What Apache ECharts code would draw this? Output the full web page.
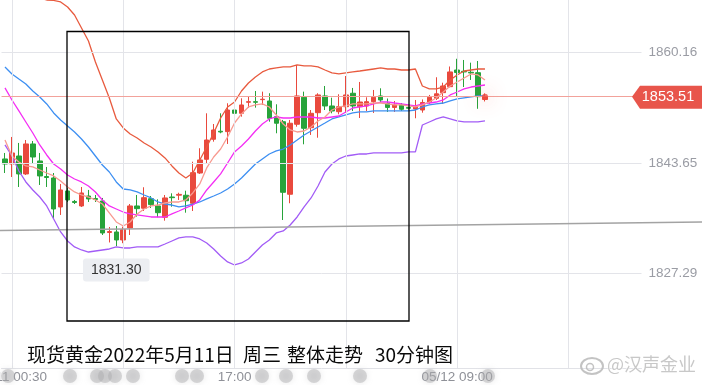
<!DOCTYPE html>
<html><head><meta charset="utf-8">
<script src="https://cdn.jsdelivr.net/npm/echarts@6.0.0/dist/echarts.min.js"></script>
<style>html,body{margin:0;padding:0;background:#fff}#c{width:702px;height:385px}</style>
</head><body><div id="c"></div>
<script>
// ---- data ----
const opens = [1844.25,1843.50,1844.69,1842.02,1846.48,1843.95,1841.64,1841.42,1837.11,1839.49,
1837.93,1837.26,1838.74,1838.37,1838.00,1833.31,1833.39,1832.20,1833.98,1837.26,
1836.92,1838.34,1837.26,1835.58,1838.59,1838.86,1838.85,1837.66,1842.16,1844.20,
1847.18,1848.37,1848.31,1851.53,1851.04,1852.68,1852.77,1853.07,1852.87,1850.54,
1849.79,1839.00,1849.41,1853.42,1848.90,1851.13,1853.62,1852.13,1851.28,1852.02,
1854.02,1852.02,1852.13,1852.77,1853.62,1852.50,1851.91,1852.28,1851.91,1851.68,
1851.53,1852.72,1853.27,1854.11,1855.00,1857.48,1857.29,1857.14,1857.08,1853.10];
const closes = [1843.50,1845.14,1842.02,1846.48,1844.54,1841.72,1841.49,1836.81,1839.64,1838.15,
1837.78,1839.19,1838.30,1838.22,1833.24,1833.46,1832.20,1833.76,1837.26,1836.86,
1838.49,1837.46,1836.26,1838.45,1838.49,1838.98,1838.04,1842.21,1844.10,1847.07,
1848.56,1848.26,1851.53,1851.04,1852.28,1852.77,1852.68,1853.13,1850.30,1849.56,
1839.29,1849.56,1853.62,1848.81,1851.04,1853.77,1852.13,1851.38,1852.02,1853.77,
1852.13,1852.72,1852.77,1853.42,1853.02,1851.91,1852.28,1851.64,1851.79,1851.98,
1852.65,1853.42,1853.94,1855.10,1857.19,1857.11,1857.19,1857.04,1853.51,1853.51];
const lows = [1842.16,1841.57,1840.08,1841.87,1843.50,1840.38,1840.08,1835.47,1835.92,1837.85,
1837.55,1837.11,1837.85,1837.85,1832.94,1831.83,1831.30,1831.72,1832.94,1835.67,
1836.51,1836.96,1835.58,1835.07,1837.15,1838.15,1836.26,1836.51,1842.02,1843.61,
1846.82,1848.07,1846.48,1850.05,1850.54,1851.83,1851.88,1852.28,1849.79,1848.07,
1835.17,1837.66,1849.05,1846.43,1847.82,1847.41,1851.53,1851.04,1850.89,1851.09,
1851.38,1850.34,1851.38,1851.09,1852.57,1851.24,1851.24,1851.38,1851.61,1850.30,
1851.13,1852.43,1853.02,1852.43,1854.91,1853.62,1854.95,1856.00,1851.71,1852.80];
const highs = [1845.14,1847.52,1846.63,1847.07,1846.92,1845.14,1843.06,1842.16,1840.53,1839.93,
1838.15,1840.08,1839.64,1838.89,1838.45,1834.13,1834.28,1834.18,1837.55,1838.89,
1840.04,1838.74,1838.25,1838.89,1839.14,1839.23,1839.53,1843.84,1845.84,1851.04,
1849.45,1851.04,1852.53,1854.58,1853.27,1853.51,1854.36,1854.26,1854.02,1852.38,
1850.05,1850.05,1858.23,1854.26,1851.53,1854.02,1855.10,1853.36,1853.87,1856.59,
1854.81,1855.70,1853.42,1854.51,1854.76,1853.24,1852.87,1852.57,1851.98,1853.02,
1853.10,1853.77,1856.40,1855.59,1858.00,1859.15,1858.97,1858.57,1858.82,1854.00];
const upperBand = [1869.68,1869.38,1869.08,1868.79,1868.49,1868.19,1867.89,1867.82,1867.60,1866.85,
1865.66,1863.73,1861.80,1858.67,1856.00,1853.32,1850.20,1848.86,1847.96,1847.37,
1846.63,1846.03,1845.29,1844.40,1843.21,1842.16,1841.42,1842.16,1844.10,1846.03,
1848.11,1850.34,1851.98,1852.72,1854.36,1855.55,1856.44,1857.19,1857.63,1857.78,
1857.93,1857.93,1858.23,1858.08,1858.08,1857.93,1857.48,1857.04,1856.89,1857.04,
1857.19,1857.33,1857.48,1857.63,1857.78,1857.63,1857.63,1857.48,1857.48,1857.63,
1855.10,1854.66,1854.66,1854.95,1856.00,1856.74,1857.33,1857.48,1857.63,1857.63];
const midBand = [1857.93,1856.89,1856.14,1855.40,1854.36,1853.47,1852.43,1851.09,1850.05,1849.15,
1848.26,1847.22,1846.03,1844.69,1843.35,1842.31,1840.83,1839.78,1839.64,1839.34,
1838.89,1838.45,1837.85,1837.55,1837.40,1837.11,1837.26,1837.55,1837.85,1838.30,
1838.74,1839.19,1839.78,1840.53,1841.42,1842.46,1843.50,1844.25,1844.99,1845.44,
1845.73,1846.33,1847.07,1847.82,1848.41,1849.01,1849.60,1850.20,1850.49,1850.79,
1851.09,1851.24,1851.24,1851.39,1851.39,1851.39,1851.39,1851.39,1851.39,1851.53,
1851.98,1852.28,1852.43,1852.57,1852.87,1853.17,1853.32,1853.47,1853.62,1853.62];
const lowerBand = [1846.33,1844.69,1842.46,1840.83,1839.64,1838.59,1837.26,1835.32,1833.39,1832.05,
1831.16,1830.71,1830.41,1830.56,1830.71,1830.86,1831.16,1831.01,1831.01,1831.16,
1831.16,1831.16,1831.16,1831.60,1832.05,1832.50,1832.65,1832.65,1832.35,1831.75,
1830.86,1829.82,1828.93,1828.48,1828.78,1829.37,1830.41,1831.46,1832.20,1833.24,
1833.54,1834.43,1835.62,1837.11,1838.45,1840.23,1842.31,1843.50,1844.25,1844.69,
1844.84,1844.99,1844.99,1845.14,1845.14,1845.14,1845.14,1845.14,1845.29,1845.29,
1849.30,1849.75,1850.20,1850.49,1850.20,1849.90,1849.75,1849.75,1849.75,1849.90];
const maMagenta = [1854.81,1853.02,1851.39,1849.75,1848.11,1846.33,1844.84,1843.50,1842.76,1841.87,
1841.27,1840.83,1840.23,1839.34,1838.15,1837.26,1836.81,1836.36,1836.07,1835.92,
1835.77,1835.62,1835.62,1835.62,1836.07,1836.51,1836.96,1837.40,1838.15,1839.64,
1840.83,1842.02,1843.65,1845.29,1846.18,1847.22,1848.41,1849.45,1850.20,1850.49,
1850.34,1850.34,1850.49,1850.49,1850.49,1850.34,1850.34,1850.49,1850.64,1851.24,
1851.83,1851.98,1852.13,1852.43,1852.72,1852.72,1852.57,1852.43,1852.28,1852.13,
1852.43,1852.57,1852.72,1853.02,1853.77,1854.21,1854.66,1854.95,1855.10,1855.25];
const maSalmon = [1847.07,1844.69,1843.80,1843.21,1843.06,1842.61,1842.16,1841.72,1840.97,1840.08,
1839.34,1838.89,1838.59,1838.15,1837.55,1836.22,1834.88,1834.28,1834.88,1836.07,
1836.81,1837.26,1837.40,1837.70,1837.85,1837.85,1838.15,1839.19,1840.53,1842.91,
1844.54,1845.73,1847.52,1849.60,1850.94,1851.98,1852.28,1852.43,1851.98,1850.79,
1849.45,1848.56,1848.26,1848.41,1849.01,1849.90,1850.49,1851.53,1851.98,1852.13,
1852.43,1852.43,1852.43,1852.57,1852.57,1852.43,1852.28,1852.28,1852.13,1851.98,
1852.28,1852.72,1853.32,1854.21,1855.10,1855.70,1856.29,1856.89,1856.74,1856.00];
const yTicks = [1860.16, 1843.65, 1827.29];
const tickIndex = [1, 33, 65];
const tickText = ['05/11 00:30', '17:00', '05/12 09:00'];
const gridIndex = [1, 17, 33, 49, 65, 81];
const slotCount = 92;
const lastPrice = 1853.51;
const titleParts = ['现货黄金2022年5月11日', '周三', '整体走势', '30分钟图'];

// categories: 30-minute slots
const categories = [];
for (let i = 0; i < slotCount; i++) {
  const d = new Date(Date.UTC(2022, 4, 11, 0, 0) + i * 1800000);
  const p = n => String(n).padStart(2, '0');
  categories.push(p(d.getUTCMonth() + 1) + '/' + p(d.getUTCDate()) + ' ' + p(d.getUTCHours()) + ':' + p(d.getUTCMinutes()));
}
const kData = opens.map((o, i) => [o, closes[i], lows[i], highs[i]]);
const lowIdx = lows.indexOf(Math.min(...lows));
const lastIdx = closes.length - 1;

const chart = echarts.init(document.getElementById('c'), null, {renderer: 'canvas'});
const lineS = (name, data, color) => ({
  name, type: 'line', data, symbol: 'none', showSymbol: false, z: 4,
  lineStyle: {color, width: 1.3}, itemStyle: {color}, silent: true
});
const option = {
  animation: false,
  backgroundColor: '#ffffff',
  grid: {left: 1.5, right: 60.5, top: 0, bottom: 17, containLabel: false, outerBoundsMode: 'none'},
  xAxis: {
    type: 'category', data: categories, boundaryGap: true,
    axisLine: {show: true, lineStyle: {color: '#e1e2e7'}},
    axisTick: {show: false},
    splitLine: {show: false},
    axisLabel: {
      interval: (i) => tickIndex.includes(i),
      formatter: (v, i) => { const k = tickIndex.indexOf(i); return k >= 0 ? tickText[k] : ''; },
      color: '#8f9198', fontSize: 13.5, margin: 2, fontFamily: 'Liberation Sans, Arial, sans-serif'
    }
  },
  yAxis: {
    type: 'value', min: 1813.16, max: 1867.89, scale: true,
    axisLine: {show: false}, axisTick: {show: false}, axisLabel: {show: false}, splitLine: {show: false}
  },
  series: [
    {
      name: 'grid', type: 'line', data: [], z: 0, silent: true,
      markLine: {
        silent: true, symbol: ['none', 'none'], animation: false,
        lineStyle: {color: '#e3e4e9', width: 1, type: 'solid'},
        label: {show: false},
        data: gridIndex.map(i => ({xAxis: categories[i], label: {show: false}})).concat(
          yTicks.map(v => ({
            yAxis: v,
            label: {show: true, position: 'end', distance: 7, formatter: () => v.toFixed(2),
              color: '#9a9ca4', fontSize: 13.5, fontFamily: 'Liberation Sans, Arial, sans-serif'}
          })))
      }
    },
    {
      name: '现货黄金', type: 'candlestick', data: kData, barWidth: 5, z: 3,
      itemStyle: {color: '#e9493d', color0: '#27a33a', borderColor: '#e9493d', borderColor0: '#27a33a', borderWidth: 1},
      markLine: {
        silent: true, symbol: ['none', 'none'], animation: false,
        lineStyle: {color: '#f2a29b', width: 1, type: 'solid'},
        label: {show: false},
        data: [{yAxis: lastPrice}]
      },
      markPoint: {
        silent: true, animation: false,
        data: [{
          coord: [categories[lowIdx], lows[lowIdx]],
          symbol: 'circle', symbolSize: 1, itemStyle: {color: 'rgba(0,0,0,0)'},
          label: {show: true, position: 'bottom', distance: 12, formatter: () => lows[lowIdx].toFixed(2),
            color: '#333', fontSize: 14, backgroundColor: '#eceef2', borderRadius: 3, padding: [5, 8, 4, 8],
            fontFamily: 'Liberation Sans, Arial, sans-serif'}
        }]
      }
    },
    lineS('upper', upperBand, '#e85a3e'),
    lineS('lower', lowerBand, '#a25cf6'),
    lineS('mid', midBand, '#3d8ff2'),
    lineS('ma1', maMagenta, '#f42ef4'),
    lineS('ma2', maSalmon, '#f89a90'),
    {
      name: 'last', type: 'scatter', z: 6, silent: true,
      data: [[categories[lastIdx], closes[lastIdx]]],
      symbolSize: 6,
      itemStyle: {color: '#f04a3e', shadowBlur: 18, shadowColor: 'rgba(240,60,50,0.9)'}
    }
  ]
};
chart.setOption(option);

// annotation graphics
const py = chart.convertToPixel({yAxisIndex: 0}, lastPrice);
const dots = [8, 70, 97, 105, 115, 133, 182, 197, 262, 286, 314, 360, 430, 488];
const titleX = [27, 243, 287, 375];
const graphics = [
  {type: 'line', silent: true, z: 50, shape: {x1: 0, y1: 230.5, x2: 702, y2: 222}, style: {stroke: '#a3a3a3', lineWidth: 1.5}},
  {type: 'rect', silent: true, z: 50, shape: {x: 67, y: 31.5, width: 342, height: 289.5}, style: {fill: 'none', stroke: '#000', lineWidth: 1.3}},
  {type: 'polygon', silent: true, z: 60, shape: {points: [[632, py], [640, py - 11], [702, py - 11], [702, py + 12], [640, py + 12]]}, style: {fill: '#e8554b'}},
  {type: 'text', silent: true, z: 61, x: 668, y: py, style: {text: lastPrice.toFixed(2), fill: '#fff', font: '14.5px "Liberation Sans", Arial, sans-serif', align: 'center', verticalAlign: 'middle'}},
  {type: 'text', silent: true, z: 61, x: 607, y: 364, style: {text: '@汉声金业', fill: 'rgba(190,190,190,0.85)', stroke: 'rgba(255,255,255,0.9)', lineWidth: 1, font: '18px "Noto Sans CJK SC", sans-serif', align: 'left', verticalAlign: 'middle'}},
  {type: 'ellipse', silent: true, z: 61, shape: {cx: 592, cy: 366, rx: 11, ry: 8}, style: {fill: 'none', stroke: 'rgba(185,185,185,0.85)', lineWidth: 2}},
  {type: 'circle', silent: true, z: 61, shape: {cx: 590, cy: 367, r: 3.5}, style: {fill: 'none', stroke: 'rgba(185,185,185,0.85)', lineWidth: 1.5}}
].concat(titleParts.map((t, i) => ({
  type: 'text', silent: true, z: 61, x: titleX[i], y: 355,
  style: {text: t, fill: '#0a0a0a', font: '19px "Noto Sans CJK SC", sans-serif', align: 'left', verticalAlign: 'middle'}
}))).concat(dots.map(x => ({
  type: 'circle', silent: true, z: 55, shape: {cx: x, cy: 376, r: 7},
  style: {fill: 'rgba(170,170,172,0.45)', shadowBlur: 6, shadowColor: 'rgba(170,170,172,0.6)'}
})));
chart.setOption({graphic: graphics});
</script>
</body></html>
